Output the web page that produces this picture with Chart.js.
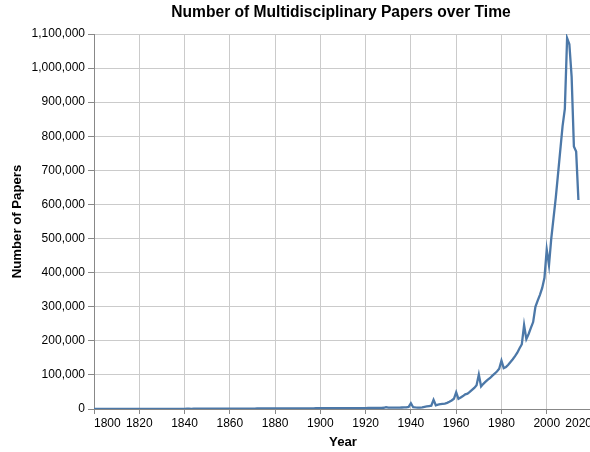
<!DOCTYPE html>
<html>
<head>
<meta charset="utf-8">
<title>Number of Multidisciplinary Papers over Time</title>
<script src="https://cdn.jsdelivr.net/npm/chart.js@4.4.1/dist/chart.umd.min.js"></script>
<style>
  html, body { margin: 0; padding: 0; background: #fff; overflow: hidden; }
  #chart { display: block; }
</style>
</head>
<body>
<canvas id="chart" width="600" height="452"></canvas>
<script>
// Year of publication
const years = [
  1800, 1801, 1802, 1803, 1804, 1805, 1806, 1807, 1808, 1809,
  1810, 1811, 1812, 1813, 1814, 1815, 1816, 1817, 1818, 1819,
  1820, 1821, 1822, 1823, 1824, 1825, 1826, 1827, 1828, 1829,
  1830, 1831, 1832, 1833, 1834, 1835, 1836, 1837, 1838, 1839,
  1840, 1841, 1842, 1843, 1844, 1845, 1846, 1847, 1848, 1849,
  1850, 1851, 1852, 1853, 1854, 1855, 1856, 1857, 1858, 1859,
  1860, 1861, 1862, 1863, 1864, 1865, 1866, 1867, 1868, 1869,
  1870, 1871, 1872, 1873, 1874, 1875, 1876, 1877, 1878, 1879,
  1880, 1881, 1882, 1883, 1884, 1885, 1886, 1887, 1888, 1889,
  1890, 1891, 1892, 1893, 1894, 1895, 1896, 1897, 1898, 1899,
  1900, 1901, 1902, 1903, 1904, 1905, 1906, 1907, 1908, 1909,
  1910, 1911, 1912, 1913, 1914, 1915, 1916, 1917, 1918, 1919,
  1920, 1921, 1922, 1923, 1924, 1925, 1926, 1927, 1928, 1929,
  1930, 1931, 1932, 1933, 1934, 1935, 1936, 1937, 1938, 1939,
  1940, 1941, 1942, 1943, 1944, 1945, 1946, 1947, 1948, 1949,
  1950, 1951, 1952, 1953, 1954, 1955, 1956, 1957, 1958, 1959,
  1960, 1961, 1962, 1963, 1964, 1965, 1966, 1967, 1968, 1969,
  1970, 1971, 1972, 1973, 1974, 1975, 1976, 1977, 1978, 1979,
  1980, 1981, 1982, 1983, 1984, 1985, 1986, 1987, 1988, 1989,
  1990, 1991, 1992, 1993, 1994, 1995, 1996, 1997, 1998, 1999,
  2000, 2001, 2002, 2003, 2004, 2005, 2006, 2007, 2008, 2009,
  2010, 2011, 2012, 2013, 2014
];

// Number of papers per year
const papers = [
  120, 90, 110, 140, 100, 130, 160, 150, 170, 140,
  180, 160, 200, 170, 210, 230, 190, 240, 220, 260,
  280, 250, 300, 330, 290, 350, 380, 340, 400, 420,
  450, 410, 480, 520, 470, 550, 590, 530, 620, 650,
  610, 680, 720, 660, 750, 790, 730, 820, 860, 800,
  900, 870, 940, 980, 920, 1010, 1060, 990, 1100, 1150,
  1080, 1120, 1190, 1150, 1230, 1270, 1210, 1300, 1340, 1280,
  1380, 1350, 1420, 1460, 1400, 1500, 1550, 1480, 1590, 1630,
  1570, 1660, 1700, 1640, 1740, 1790, 1720, 1830, 1880, 1810,
  1920, 1870, 1960, 2010, 1950, 2060, 2110, 2040, 2150, 2200,
  2140, 2250, 2300, 2230, 2350, 2400, 2330, 2460, 2520, 2440,
  2580, 2630, 2560, 2700, 2500, 2300, 2200, 2250, 2350, 2600,
  2800, 2900, 3000, 3100, 3200, 3300, 3400, 3500, 3600, 5500,
  3800, 3900, 4000, 4100, 4200, 4300, 4400, 4500, 4700, 6000,
  17000, 5200, 4600, 4300, 4200, 4800, 6500, 7500, 8500, 9500,
  27000, 11000, 13000, 14000, 15000, 16000, 18000, 21000, 25000, 30000,
  49000, 30000, 34000, 38000, 43000, 45000, 50000, 56000, 62000, 70000,
  101000, 66000, 74000, 80000, 86000, 91000, 98000, 104000, 110000, 118000,
  142000, 120000, 123000, 130000, 138000, 146000, 155000, 165000, 178000, 190000,
  246000, 205000, 220000, 238000, 255000, 300000, 318000, 335000, 355000, 385000,
  468000, 422000, 500000, 560000, 620000, 690000, 760000, 830000, 880000, 1088000,
  1070000, 975000, 770000, 755000, 613000
];

const chartTitle = 'Number of Multidisciplinary Papers over Time';
const xTitle = 'Year';
const yTitle = 'Number of Papers';

const FONT = '"Liberation Sans", Arial, Helvetica, sans-serif';

// draws the chart title centred over the plot area
const titlePlugin = {
  id: 'plotTitle',
  afterDraw(chart) {
    const ctx = chart.ctx;
    const area = chart.chartArea;
    ctx.save();
    ctx.font = 'bold 15.6px ' + FONT;
    ctx.fillStyle = '#000';
    ctx.textAlign = 'center';
    ctx.textBaseline = 'middle';
    ctx.fillText(chartTitle, (area.left + area.right) / 2 - 2, 13);
    ctx.restore();
  }
};

const ctx = document.getElementById('chart').getContext('2d');
new Chart(ctx, {
  type: 'line',
  data: {
    datasets: [{
      label: yTitle,
      data: years.map((y, i) => ({ x: y, y: papers[i] })),
      borderColor: '#4c78a8',
      borderWidth: 2.3,
      pointRadius: 0,
      tension: 0,
      fill: false
    }]
  },
  options: {
    responsive: false,
    animation: false,
    devicePixelRatio: 1,
    layout: { padding: { top: 34, right: 8, left: 0, bottom: 0 } },
    plugins: {
      legend: { display: false },
      tooltip: { enabled: false },
      title: { display: false }
    },
    scales: {
      x: {
        type: 'linear',
        min: 1800,
        max: 2020,
        afterFit(scale) { scale.height = 43; },
        ticks: {
          stepSize: 20,
          align: 'inner',
          maxRotation: 0,
          padding: 2,
          color: '#000',
          font: { family: FONT, size: 12 },
          callback: v => String(v)
        },
        grid: { color: '#cbcbcb', tickColor: '#888', tickLength: 5, lineWidth: 1 },
        border: { color: '#888' },
        title: {
          display: true,
          text: xTitle,
          color: '#000',
          font: { family: FONT, size: 13.2, weight: 'bold' },
          padding: { top: 0, bottom: 2 }
        }
      },
      y: {
        min: 0,
        max: 1100000,
        afterFit(scale) { scale.width = 94; },
        ticks: {
          stepSize: 100000,
          padding: 3,
          color: '#000',
          font: { family: FONT, size: 12 },
          callback: v => v.toLocaleString('en-US')
        },
        grid: { color: '#cbcbcb', tickColor: '#888', tickLength: 6, lineWidth: 1 },
        border: { color: '#888' },
        title: {
          display: true,
          text: yTitle,
          color: '#000',
          font: { family: FONT, size: 13.2, weight: 'bold' },
          padding: { top: 9, bottom: 0 }
        }
      }
    }
  },
  plugins: [titlePlugin]
});
</script>
</body>
</html>
